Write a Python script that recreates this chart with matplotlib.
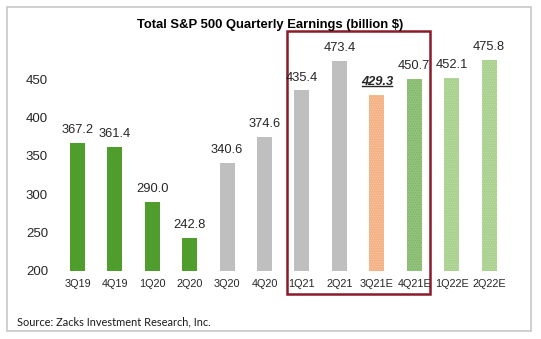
import matplotlib.pyplot as plt
from matplotlib.patches import Rectangle
from matplotlib.lines import Line2D
from matplotlib.transforms import IdentityTransform

# datos
quarters = ['3Q19', '4Q19', '1Q20', '2Q20', '3Q20', '4Q20',
            '1Q21', '2Q21', '3Q21E', '4Q21E', '1Q22E', '2Q22E']
earnings = [367.2, 361.4, 290.0, 242.8, 340.6, 374.6,
            435.4, 473.4, 429.3, 450.7, 452.1, 475.8]
yticks = [200, 250, 300, 350, 400, 450]

colors = ['#4E9D2D'] * 4 + ['#BFBFBF'] * 4 + ['#F4B183', '#93C47D', '#A9D18E', '#A9D18E']
hatch_cols = [None] * 8 + ['#F8C9A6', '#7FB067', '#BFDDA9', '#BFDDA9']

plt.rcParams['font.family'] = ['Liberation Sans', 'DejaVu Sans']
plt.rcParams['hatch.linewidth'] = 0.6

fig = plt.figure(figsize=(5.41, 3.39), dpi=100)
ax = fig.add_axes([0.1017, 0.2015, 0.8410, 0.6775])

x = range(len(quarters))
for i in x:
    if hatch_cols[i] is None:
        ax.bar(i, earnings[i] - 200, bottom=200, width=0.4, color=colors[i], lw=0)
    else:
        ax.bar(i, earnings[i] - 200, bottom=200, width=0.4, facecolor=colors[i],
               edgecolor=hatch_cols[i], hatch='.......', lw=0)

label_txt = None
for i in x:
    if quarters[i] == '3Q21E':
        label_txt = ax.annotate(f'{earnings[i]:.1f}', (i, earnings[i]), xytext=(0, 5),
                                textcoords='offset points', ha='center', va='bottom',
                                fontsize=9.3, fontweight='bold', style='italic', color='#262626')
    else:
        ax.annotate(f'{earnings[i]:.1f}', (i, earnings[i]), xytext=(0, 5),
                    textcoords='offset points', ha='center', va='bottom',
                    fontsize=9.3, color='#262626')

ax.set_xlim(-0.6, 11.56)
ax.set_ylim(200, 500)
ax.set_xticks(list(x))
ax.set_xticklabels(quarters, fontsize=7.8, color='#262626')
ax.set_yticks(yticks)
ax.set_yticklabels([str(v) for v in yticks], fontsize=9.5, color='#262626')
ax.tick_params(length=0)
ax.tick_params(axis='x', pad=6)
ax.tick_params(axis='y', pad=5)
for s in ax.spines.values():
    s.set_visible(False)

# caja roja alrededor de 2021
i0 = quarters.index('1Q21')
i1 = quarters.index('4Q21E')
ax.add_patch(Rectangle((i0 - 0.41, 169.5), (i1 - i0) + 0.83, 343, fill=False,
                       edgecolor='#8B1A2B', lw=1.8, clip_on=False))

fig.text(0.5, 0.925, 'Total S&P 500 Quarterly Earnings (billion $)', ha='center',
         va='center', fontsize=9.4, fontweight='bold', color='#000000')
fig.text(0.032, 0.05, 'Source: Zacks Investment Research, Inc.', ha='left', va='center',
         fontsize=7.9, family=['Lato', 'DejaVu Sans'], color='#1a1a1a')

# borde gris
fig.add_artist(Rectangle((0.013, 0.024), 0.968, 0.955, transform=fig.transFigure,
                         fill=False, edgecolor='#C8C8C8', lw=1.2))

# subrayado
fig.canvas.draw()
bb = label_txt.get_window_extent()
fig.add_artist(Line2D([bb.x0 + 1, bb.x1 - 1], [bb.y0 + 2.5, bb.y0 + 2.5],
                      transform=IdentityTransform(), color='#262626', lw=1))

fig.savefig('out.png', dpi=100)
